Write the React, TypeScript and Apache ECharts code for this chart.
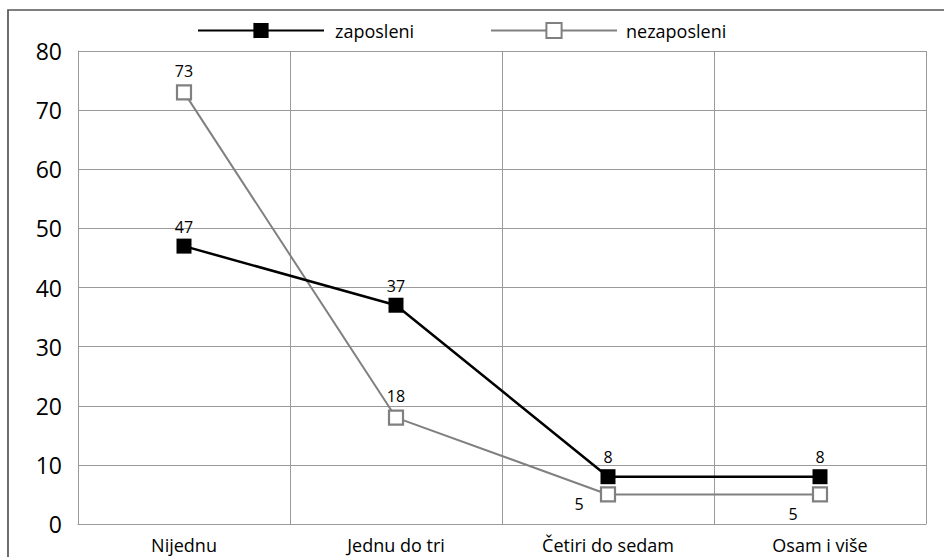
import React, { useEffect, useRef } from "react";
import * as echarts from "echarts";

const categories = ["Nijednu", "Jednu do tri", "Četiri do sedam", "Osam i više"];
const zaposleni = [47, 37, 8, 8];
const nezaposleni = [73, 18, 5, 5];
const seriesNames = ["zaposleni", "nezaposleni"];
const yTicks = { min: 0, max: 80, interval: 10 };

const FONT = "'Open Sans', 'Noto Sans', sans-serif";

export default function App() {
  const ref = useRef<HTMLDivElement>(null);
  useEffect(() => {
    if (!ref.current) return;
    const chart = echarts.init(ref.current, undefined, { renderer: "svg" });
    const gridColor = "#9a9a9a";
    const nezLabelOffsets: Record<number, { position: string; offset: number[] }> = {
      2: { position: "bottom", offset: [-29, -12] },
      3: { position: "bottom", offset: [-27, -2] },
    };
    chart.setOption({
      animation: false,
      textStyle: { fontFamily: FONT },
      graphic: [
        {
          type: "rect",
          shape: { x: 8, y: 10, width: 1000, height: 700 },
          style: { fill: "none", stroke: "#555", lineWidth: 1.7 },
          silent: true,
        },
      ],
      legend: [
        {
          data: [seriesNames[0]],
          left: 197,
          top: 21.5,
          padding: 0,
          itemWidth: 126,
          itemHeight: 19,
          textStyle: { fontFamily: FONT, fontSize: 18, color: "#000", padding: [0, 0, 0, 6] },
        },
        {
          data: [seriesNames[1]],
          left: 490,
          top: 21.5,
          padding: 0,
          itemWidth: 126,
          itemHeight: 19,
          textStyle: { fontFamily: FONT, fontSize: 18, color: "#000", padding: [0, 0, 0, 4] },
        },
      ],
      grid: { left: 78, top: 51, right: 18, bottom: 33, containLabel: false },
      xAxis: {
        type: "category",
        data: categories,
        boundaryGap: true,
        axisLine: { show: true, lineStyle: { color: gridColor, width: 1 } },
        axisTick: { show: false },
        axisLabel: { fontFamily: FONT, fontSize: 18, color: "#000", margin: 12, interval: 0 },
        splitLine: { show: true, interval: 0, lineStyle: { color: gridColor, width: 1 } },
      },
      yAxis: {
        type: "value",
        min: yTicks.min,
        max: yTicks.max,
        interval: yTicks.interval,
        axisLine: { show: true, lineStyle: { color: gridColor, width: 1 } },
        axisTick: { show: false },
        axisLabel: { fontFamily: FONT, fontSize: 23, color: "#000", margin: 16 },
        splitLine: { show: true, lineStyle: { color: gridColor, width: 1 } },
      },
      series: [
        {
          name: seriesNames[0],
          type: "line",
          data: zaposleni,
          symbol: "rect",
          symbolSize: 15,
          lineStyle: { color: "#000", width: 2.5 },
          itemStyle: { color: "#000", borderColor: "#000", borderWidth: 0 },
          label: {
            show: true,
            position: "top",
            distance: 4,
            fontFamily: FONT,
            fontSize: 16,
            color: "#000",
          },
          z: 3,
        },
        {
          name: seriesNames[1],
          type: "line",
          data: nezaposleni.map((v, i) =>
            nezLabelOffsets[i] ? { value: v, label: nezLabelOffsets[i] } : v
          ),
          symbol: "rect",
          symbolSize: 14,
          lineStyle: { color: "#808080", width: 2 },
          itemStyle: { color: "#fff", borderColor: "#808080", borderWidth: 2.2 },
          label: {
            show: true,
            position: "top",
            distance: 5,
            fontFamily: FONT,
            fontSize: 16,
            color: "#000",
          },
          z: 2,
        },
      ],
    });
    return () => chart.dispose();
  }, []);
  return (
    <div
      ref={ref}
      style={{ position: "absolute", left: 0, top: 0, width: 944, height: 557 }}
    />
  );
}
